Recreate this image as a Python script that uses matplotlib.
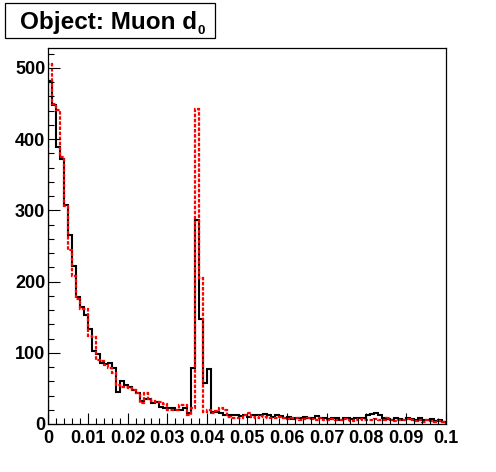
import numpy as np
import matplotlib
matplotlib.use("Agg")
import matplotlib.pyplot as plt
from matplotlib.ticker import MultipleLocator, FixedLocator, FixedFormatter
from matplotlib.patches import Rectangle

# ---- data ----
bin_edges_min = 0.0
bin_edges_max = 0.1
n_bins = 100

black_counts = [
    482, 448, 389, 372, 308, 265, 222, 179, 165, 153,
    134, 102, 99, 85, 84, 85, 78, 45, 61, 55,
    52, 48, 43, 33, 35, 35, 29, 31, 24, 22,
    22, 22, 20, 20, 22, 15, 78, 287, 148, 57,
    77, 17, 17, 16, 13, 13, 12, 13, 11, 12,
    10, 12, 13, 12, 14, 12, 10, 12, 11, 9,
    10, 7, 9, 8, 10, 9, 8, 11, 9, 8,
    7, 9, 8, 6, 9, 8, 7, 8, 9, 8,
    12, 14, 15, 13, 8, 7, 6, 8, 7, 5,
    9, 7, 6, 8, 5, 6, 7, 4, 5, 3,
]

red_counts = [
    505, 450, 441, 375, 306, 245, 208, 175, 162, 161,
    124, 122, 90, 88, 83, 78, 72, 55, 52, 52,
    50, 48, 43, 30, 43, 35, 32, 31, 31, 28,
    20, 20, 20, 27, 27, 12, 22, 443, 205, 17,
    20, 15, 18, 22, 20, 10, 9, 8, 9, 12,
    16, 10, 9, 11, 10, 8, 8, 9, 10, 8,
    7, 9, 8, 6, 7, 9, 7, 6, 8, 6,
    5, 7, 6, 5, 7, 5, 4, 6, 7, 5,
    6, 5, 7, 6, 5, 8, 6, 4, 5, 6,
    7, 5, 4, 6, 3, 5, 4, 3, 4, 3,
]

x_tick_values = [0.0, 0.01, 0.02, 0.03, 0.04, 0.05, 0.06, 0.07, 0.08, 0.09, 0.1]
x_tick_labels = ["0", "0.01", "0.02", "0.03", "0.04", "0.05", "0.06", "0.07", "0.08", "0.09", "0.1"]
y_tick_values = [0, 100, 200, 300, 400, 500]
y_tick_labels = ["0", "100", "200", "300", "400", "500"]
title_main = "Object: Muon d"
title_sub = "0"

# ---- figure ----
W, H = 496, 472
fig = plt.figure(figsize=(W / 100, H / 100), dpi=100)
fig.patch.set_facecolor("white")

L, R, T, B = 48, 446, 48, 424
ax = fig.add_axes([L / W, 1 - B / H, (R - L) / W, (B - T) / H])

edges = np.linspace(bin_edges_min, bin_edges_max, n_bins + 1)
ax.stairs(black_counts, edges, color="black", lw=1.5, baseline=0)
ax.stairs(red_counts, edges, color="#ff0000", lw=1.6, baseline=0,
          linestyle=(0, (1.6, 0.7)))

ax.set_xlim(0, 0.1)
ax.set_ylim(0, 528)

font = "Liberation Sans"
ax.xaxis.set_major_locator(FixedLocator(x_tick_values))
ax.xaxis.set_major_formatter(FixedFormatter(x_tick_labels))
ax.xaxis.set_minor_locator(MultipleLocator(0.002))
ax.yaxis.set_major_locator(FixedLocator(y_tick_values))
ax.yaxis.set_major_formatter(FixedFormatter(y_tick_labels))
ax.yaxis.set_minor_locator(MultipleLocator(20))

ax.tick_params(axis="both", which="both", direction="in", top=False, right=False,
               width=0.8, color="black")
ax.tick_params(axis="x", which="major", length=8.0, pad=4)
ax.tick_params(axis="x", which="minor", length=4.0)
ax.tick_params(axis="y", which="major", length=8.6, pad=2)
ax.tick_params(axis="y", which="minor", length=4.5)

for lab in ax.get_xticklabels() + ax.get_yticklabels():
    lab.set_fontfamily(font)
    lab.set_fontweight("bold")
    lab.set_fontsize(13)

for sp in ax.spines.values():
    sp.set_linewidth(0.9)
    sp.set_color("black")

# ---- title box ----
bx0, bx1, by0, by1 = 5, 215, 3, 38
rect = Rectangle((bx0 / W, 1 - by1 / H), (bx1 - bx0) / W, (by1 - by0) / H,
                 transform=fig.transFigure, facecolor="white", edgecolor="black",
                 lw=0.9)
fig.patches.append(rect)
t1 = fig.text(20 / W, 1 - 29 / H, title_main, fontfamily=font, fontweight="bold",
              fontsize=17.5, ha="left", va="baseline")
fig.canvas.draw()
bb = t1.get_window_extent(renderer=fig.canvas.get_renderer())
fig.text((bb.x1 + 0.5) / W, 1 - 34.5 / H, title_sub, fontfamily=font, fontweight="bold",
         fontsize=9.5, ha="left", va="baseline")

fig.savefig("out.png", dpi=100)
